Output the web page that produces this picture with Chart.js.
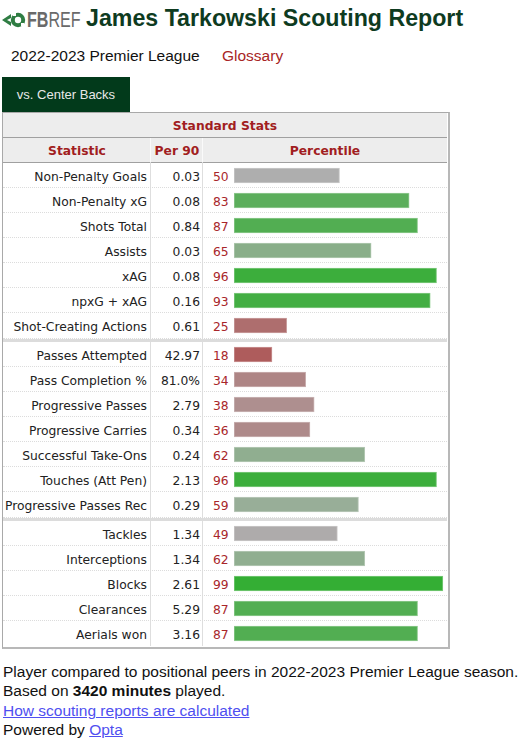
<!DOCTYPE html>
<html><head><meta charset="utf-8">
<script src="https://cdn.jsdelivr.net/npm/chart.js@4.4.0/dist/chart.umd.min.js"></script>
<style>
html,body{margin:0;padding:0;background:#fff}
body{width:527px;height:750px;position:relative;overflow:hidden;font-family:"Liberation Sans",Arial,sans-serif}
.a{position:absolute;white-space:nowrap}
.t{font-family:"DejaVu Sans",Verdana,sans-serif;font-size:12.3px;line-height:25px;color:#222}
.hd{font-family:"DejaVu Sans",Verdana,sans-serif;font-size:12.3px;font-weight:bold;color:#a11d21;line-height:24px;text-align:center}
.foot{font-size:15.5px;line-height:19.4px;color:#111}
.foot a{color:#4f4ff0;text-decoration:underline}
canvas{position:absolute}
</style></head><body>

<!-- logo -->
<svg class="a" style="left:2px;top:11px" width="24" height="18" viewBox="0 0 24 18">
  <polygon points="0,9 9,3 9,7 5,9 9,11 9,15" fill="#2f7d43"/>
  <circle cx="16" cy="9" r="7.2" fill="#2f7d43"/>
  <circle cx="16" cy="9" r="3.2" fill="#fff"/>
  <rect x="11" y="2" width="3" height="3" fill="#fff"/>
  <rect x="19" y="12" width="3" height="3" fill="#fff"/>
</svg>
<div class="a" style="left:27px;top:8px;font-size:22px;line-height:24px;color:#6a6a6a;transform:scaleX(0.73);transform-origin:0 0"><b>FB</b>REF</div>
<div class="a" style="left:86px;top:7px;font-size:23.2px;line-height:23px;font-weight:bold;color:#0e3b1f">James Tarkowski Scouting Report</div>

<div class="a" style="left:11px;top:46px;font-size:15.5px;line-height:19px;color:#111">2022-2023 Premier League</div>
<div class="a" style="left:222px;top:46px;font-size:15.5px;line-height:19px;color:#a82525">Glossary</div>

<div class="a" style="left:2px;top:77px;width:128px;height:35px;background:#023a1b"></div>
<div class="a" style="left:2px;top:77px;width:128px;line-height:36px;font-size:13px;color:#e8e8e8;text-align:center">vs. Center Backs</div>

<div id="table" class="a" style="left:2px;top:112px;width:445px;height:534px;border:1px solid #a9a9a9;border-bottom:2px solid #b8b8b8;border-right:2px solid #b8b8b8"></div>

<div id="foot" class="a foot" style="left:3px;top:662px">
Player compared to positional peers in 2022-2023 Premier League season.<br>
Based on <b>3420 minutes</b> played.<br>
<a>How scouting reports are calculated</a><br>
Powered by <a>Opta</a>
</div>

<script>
// ---- data ----
const groupTitle = "Standard Stats";
const headers = ["Statistic", "Per 90", "Percentile"];

const statsShooting = ["Non-Penalty Goals","Non-Penalty xG","Shots Total","Assists","xAG","npxG + xAG","Shot-Creating Actions"];
const per90Shooting = ["0.03","0.08","0.84","0.03","0.08","0.16","0.61"];
const pctShooting   = [50, 83, 87, 65, 96, 93, 25];

const statsPassing = ["Passes Attempted","Pass Completion %","Progressive Passes","Progressive Carries","Successful Take-Ons","Touches (Att Pen)","Progressive Passes Rec"];
const per90Passing = ["42.97","81.0%","2.79","0.34","0.24","2.13","0.29"];
const pctPassing   = [18, 34, 38, 36, 62, 96, 59];

const statsDefense = ["Tackles","Interceptions","Blocks","Clearances","Aerials won"];
const per90Defense = ["1.34","1.34","2.61","5.29","3.16"];
const pctDefense   = [49, 62, 99, 87, 87];

// ---- layout ----
const L = {tableLeft:3, tableRight:447, statRight:147, col1:151, col2:203, per90Right:200,
           pctLeft:213, barLeft:234, barWidth:211, rowH:25, textShift:2, groupTops:[163,342,521]};

function pctColor(p, alpha){
  let r,g,b;
  if (p >= 50){ const t=(p-50)/50; r=b=Math.round(174-124*t); g=174; }
  else { const t=(50-p)/50; r=174; g=b=Math.round(174-128*t); }
  if (alpha!==undefined){ // lighter border
    r=Math.round(r+(255-r)*alpha); g=Math.round(g+(255-g)*alpha); b=Math.round(b+(255-b)*alpha);
  }
  return `rgb(${r},${g},${b})`;
}

const body = document.body;
function add(html, style, cls){
  const d=document.createElement('div'); d.className='a '+(cls||''); d.style.cssText=style; d.innerHTML=html; body.appendChild(d); return d;
}

// header backgrounds
add('', `left:${L.tableLeft}px;top:113px;width:${L.tableRight-L.tableLeft}px;height:24px;background:#ededed;border-bottom:1px solid #a0a0a0`);
add('', `left:${L.tableLeft}px;top:138px;width:${L.tableRight-L.tableLeft}px;height:24px;background:#ededed;border-bottom:1px solid #a0a0a0`);
add(groupTitle, `left:${L.tableLeft}px;top:114px;width:${L.tableRight-L.tableLeft}px`, 'hd');
add(headers[0], `left:${L.tableLeft}px;top:139px;width:${L.col1-L.tableLeft}px`, 'hd');
add(headers[1], `left:${L.col1}px;top:139px;width:${L.col2-L.col1}px`, 'hd');
add(headers[2], `left:${L.col2}px;top:139px;width:${L.tableRight-L.col2}px`, 'hd');

// vertical column dividers
add('', `left:${L.col1-1}px;top:138px;width:1px;height:508px;background:#dedede`);
add('', `left:${L.col2-1}px;top:138px;width:1px;height:508px;background:#dedede`);
add('', `left:${L.col1-1}px;top:138px;width:1px;height:24px;background:#fafafa`);
add('', `left:${L.col2-1}px;top:138px;width:1px;height:24px;background:#fafafa`);

const groups = [
  [statsShooting, per90Shooting, pctShooting],
  [statsPassing, per90Passing, pctPassing],
  [statsDefense, per90Defense, pctDefense]
];

groups.forEach(([names, per90, pct], gi)=>{
  const top = L.groupTops[gi];
  names.forEach((n,i)=>{
    const y = top + i*L.rowH;
    const ty = y + L.textShift;
    add(n, `left:${L.tableLeft}px;top:${ty}px;width:${L.statRight-L.tableLeft}px;text-align:right`, 't');
    add(per90[i], `left:${L.col1}px;top:${ty}px;width:${L.per90Right-L.col1}px;text-align:right`, 't');
    add(String(pct[i]), `left:${L.pctLeft}px;top:${ty}px;color:#a8262a`, 't');
    if (i < names.length-1)
      add('', `left:${L.tableLeft}px;top:${y+L.rowH-1}px;width:${L.tableRight-L.tableLeft}px;height:0;border-top:1px dotted #dcdcdc`);
  });
  if (gi < groups.length-1){
    const yb = top + names.length*L.rowH;
    add('', `left:${L.tableLeft}px;top:${yb}px;width:${L.tableRight-L.tableLeft}px;height:0;border-top:1px dotted #dcdcdc`);
    add('', `left:${L.tableLeft}px;top:${yb+1}px;width:${L.tableRight-L.tableLeft}px;height:3px;background:#dcdcdc`);
  }

  const c = document.createElement('canvas');
  c.width = L.barWidth; c.height = names.length*L.rowH;
  c.style.left = L.barLeft+'px'; c.style.top = top+'px';
  c.style.width = L.barWidth+'px'; c.style.height = (names.length*L.rowH)+'px';
  body.appendChild(c);
  new Chart(c, {
    type:'bar',
    data:{ labels:names, datasets:[{ data:pct,
      backgroundColor: pct.map(p=>pctColor(p)),
      borderColor: pct.map(p=>pctColor(p,0.35)),
      borderWidth:1, borderSkipped:false, barThickness:15 }]},
    options:{ indexAxis:'y', responsive:false, animation:false, devicePixelRatio:1,
      layout:{padding:0},
      plugins:{legend:{display:false}, tooltip:{enabled:false}},
      scales:{ x:{min:0,max:100,display:false}, y:{display:false} } }
  });
});
</script>
</body></html>
